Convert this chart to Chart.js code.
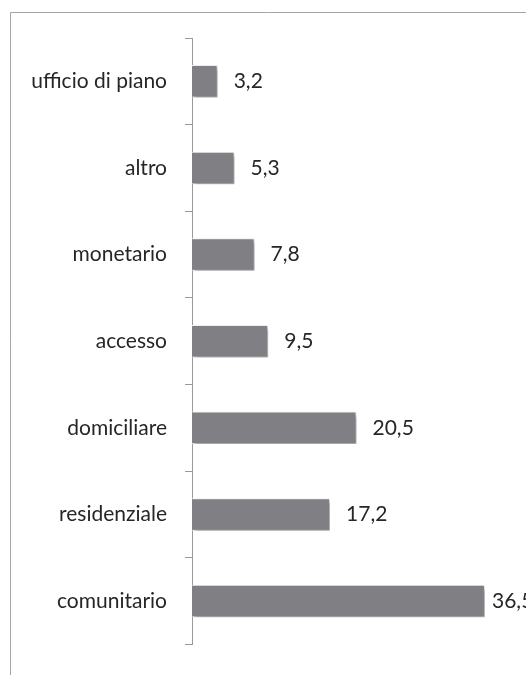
<!DOCTYPE html>
<html>
<head>
<meta charset="utf-8">
<script src="https://cdn.jsdelivr.net/npm/chart.js@4.4.1/dist/chart.umd.min.js"></script>
<style>
    html, body { margin: 0; padding: 0; background: #fff; overflow: hidden; }
    #wrap { width: 526px; height: 675px; position: relative; }
</style>
</head>
<body>
<div id="wrap"><canvas id="grafico"></canvas></div>
<script>
const categorie = ['ufficio di piano', 'altro', 'monetario', 'accesso', 'domiciliare', 'residenziale', 'comunitario'];
const valori = [3.2, 5.3, 7.8, 9.5, 20.5, 17.2, 36.5];
const asseMax = 40;

const fontEtichette = { family: 'Lato, "Open Sans", sans-serif', size: 21 };

// cornice del grafico (solo lati sinistro e superiore visibili)
const cornice = {
    id: 'cornice',
    beforeDraw(chart) {
        const ctx = chart.ctx;
        ctx.save();
        ctx.strokeStyle = '#a6a6a6';
        ctx.lineWidth = 1;
        ctx.beginPath();
        ctx.moveTo(10.5, chart.height);
        ctx.lineTo(10.5, 12.5);
        ctx.lineTo(chart.width, 12.5);
        ctx.stroke();
        ctx.restore();
    }
};

// ombra sotto le barre
const ombra = {
    id: 'ombra',
    beforeDatasetsDraw(chart) {
        const ctx = chart.ctx;
        ctx.save();
        ctx.shadowColor = 'rgba(0,0,0,0.35)';
        ctx.shadowBlur = 4;
        ctx.shadowOffsetX = 2;
        ctx.shadowOffsetY = 3;
    },
    afterDatasetsDraw(chart) {
        chart.ctx.restore();
    }
};

// etichette dei valori a destra delle barre
const etichetteValori = {
    id: 'etichetteValori',
    afterDraw(chart) {
        const ctx = chart.ctx;
        const meta = chart.getDatasetMeta(0);
        ctx.save();
        ctx.font = fontEtichette.size + 'px ' + fontEtichette.family;
        ctx.fillStyle = '#262626';
        ctx.textBaseline = 'middle';
        ctx.textAlign = 'left';
        meta.data.forEach((bar, i) => {
            const testo = valori[i].toLocaleString('it-IT', { minimumFractionDigits: 1 });
            const x = Math.min(bar.x + 16, chart.chartArea.right - 21);
            ctx.fillText(testo, x, bar.y);
        });
        ctx.restore();
    }
};

const ctx = document.getElementById('grafico').getContext('2d');
new Chart(ctx, {
    type: 'bar',
    data: {
        labels: categorie,
        datasets: [{
            data: valori,
            backgroundColor: '#7f7f84',
            borderColor: '#f2f2f2',
            borderWidth: 1,
            categoryPercentage: 1,
            barPercentage: 0.375
        }]
    },
    options: {
        indexAxis: 'y',
        responsive: true,
        maintainAspectRatio: false,
        animation: false,
        layout: { padding: { top: 38, bottom: 18, left: 0, right: 13 } },
        plugins: {
            legend: { display: false },
            tooltip: { enabled: false }
        },
        scales: {
            x: {
                display: false,
                min: 0,
                max: asseMax
            },
            y: {
                afterFit: function(scale) { scale.width = 192; },
                grid: {
                    drawOnChartArea: false,
                    drawTicks: true,
                    tickLength: 7,
                    color: '#9a9a9a',
                    offset: true
                },
                border: { display: true, color: '#9a9a9a', width: 1 },
                ticks: {
                    font: fontEtichette,
                    color: '#262626',
                    padding: 18
                }
            }
        }
    },
    plugins: [cornice, ombra, etichetteValori]
});
</script>
</body>
</html>
